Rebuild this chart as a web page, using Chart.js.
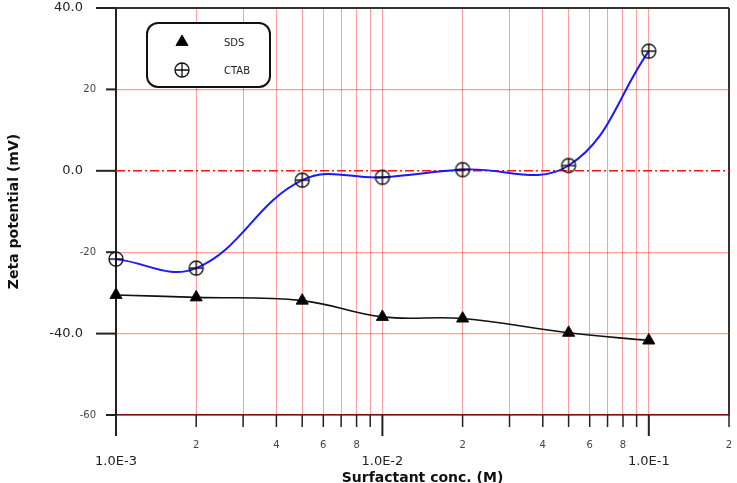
<!DOCTYPE html>
<html>
<head>
<meta charset="utf-8">
<script src="https://cdn.jsdelivr.net/npm/chart.js@4.4.1/dist/chart.umd.min.js"></script>
<style>
  html, body { margin: 0; padding: 0; background: #fff; }
  #wrap { width: 737px; height: 483px; }
</style>
</head>
<body>
<div id="wrap"><canvas id="chart"></canvas></div>
<script>
// surfactant concentration (M) and zeta potential (mV)
const concs = [0.001, 0.002, 0.005, 0.01, 0.02, 0.05, 0.1];
const sdsZeta = [-30.5, -31.1, -31.9, -35.9, -36.3, -39.8, -41.7];
const ctabZeta = [-21.7, -23.9, -2.3, -1.6, 0.3, 1.3, 29.4];

const xTicks = [0.001, 0.002, 0.003, 0.004, 0.005, 0.006, 0.007, 0.008, 0.009,
                0.01, 0.02, 0.03, 0.04, 0.05, 0.06, 0.07, 0.08, 0.09, 0.1, 0.2];
const yTicks = [-60, -40, -20, 0, 20, 40];

const FONT = "'DejaVu Sans', Verdana, sans-serif";
const GRID_RED = 'rgba(255, 40, 40, 0.45)';

function decade(v) {
    const e = Math.floor(Math.log10(v) + 1e-9);
    return { e: e, m: Math.round(v / Math.pow(10, e)) };
}

// circle with a cross, used for CTAB
function crossCircle(r) {
    const c = document.createElement('canvas');
    const s = r * 2 + 4;
    c.width = c.height = s;
    const g = c.getContext('2d');
    const m = s / 2;
    g.strokeStyle = '#111';
    g.lineWidth = 1.3;
    g.beginPath();
    g.arc(m, m, r, 0, Math.PI * 2);
    g.moveTo(m - r, m); g.lineTo(m + r, m);
    g.moveTo(m, m - r); g.lineTo(m, m + r);
    g.stroke();
    return c;
}
const ctabMark = crossCircle(7);

const axisExtras = {
    id: 'axisExtras',
    beforeDatasetsDraw(chart) {
        const ctx = chart.ctx;
        const area = chart.chartArea;
        const y0 = chart.scales.y.getPixelForValue(0);
        ctx.save();
        ctx.strokeStyle = '#ff1010';
        ctx.lineWidth = 1.5;
        ctx.setLineDash([9, 3, 2, 3]);
        ctx.beginPath();
        ctx.moveTo(area.left, y0);
        ctx.lineTo(area.right, y0);
        ctx.stroke();
        ctx.restore();
    },
    afterDraw(chart) {
        const ctx = chart.ctx;
        const area = chart.chartArea;
        const xs = chart.scales.x, ys = chart.scales.y;
        ctx.save();
        ctx.strokeStyle = '#222';
        // y tick marks, outward
        yTicks.forEach(v => {
            const p = ys.getPixelForValue(v);
            const len = v % 40 === 0 ? 20 : 10;
            ctx.lineWidth = 2;
            ctx.beginPath();
            ctx.moveTo(area.left - len, p);
            ctx.lineTo(area.left, p);
            ctx.stroke();
        });
        // x tick marks, outward
        xTicks.forEach(v => {
            const p = xs.getPixelForValue(v);
            const len = decade(v).m === 1 ? 21 : 12;
            ctx.lineWidth = decade(v).m === 1 ? 2 : 1.5;
            ctx.beginPath();
            ctx.moveTo(p, area.bottom);
            ctx.lineTo(p, area.bottom + len);
            ctx.stroke();
        });

        // legend box
        const bx = 147, by = 23, bw = 123, bh = 64, r = 11;
        ctx.lineWidth = 2;
        ctx.strokeStyle = '#111';
        ctx.fillStyle = '#fff';
        ctx.beginPath();
        ctx.roundRect(bx, by, bw, bh, r);
        ctx.fill();
        ctx.stroke();
        ctx.fillStyle = '#000';
        ctx.lineWidth = 1;
        Chart.helpers.drawPoint(ctx, { pointStyle: 'triangle', radius: 7, borderWidth: 1 }, 182, 42);
        ctx.drawImage(ctabMark, 182 - ctabMark.width / 2, 70 - ctabMark.height / 2);
        ctx.font = '10px ' + FONT;
        ctx.fillStyle = '#222';
        ctx.textBaseline = 'middle';
        ctx.fillText('SDS', 224, 43);
        ctx.fillText('CTAB', 224, 71);
        ctx.restore();
    }
};

new Chart(document.getElementById('chart'), {
    type: 'line',
    data: {
        datasets: [
            {
                label: 'SDS',
                data: concs.map((c, i) => ({ x: c, y: sdsZeta[i] })),
                borderColor: '#111',
                borderWidth: 1.6,
                backgroundColor: '#000',
                pointStyle: 'triangle',
                pointRadius: 7,
                pointBorderWidth: 1,
                tension: 0.4,
                clip: false
            },
            {
                label: 'CTAB',
                data: concs.map((c, i) => ({ x: c, y: ctabZeta[i] })),
                borderColor: '#1a1aff',
                borderWidth: 2,
                pointStyle: ctabMark,
                tension: 0.4,
                clip: false
            }
        ]
    },
    options: {
        responsive: true,
        maintainAspectRatio: false,
        animation: false,
        layout: { padding: { top: 5, right: 8, left: 0, bottom: 0 } },
        plugins: {
            legend: { display: false },
            tooltip: { enabled: false }
        },
        scales: {
            x: {
                type: 'logarithmic',
                min: 0.001,
                max: 0.2,
                afterBuildTicks: scale => { scale.ticks = xTicks.map(v => ({ value: v })); },
                afterFit: scale => {
                    scale.height = 68;
                    scale.paddingLeft = 0;
                    scale.paddingRight = 0;
                },
                grid: {
                    drawTicks: false,
                    color: ctx => ctx.tick && ctx.tick.value === 0.2 ? '#333' : GRID_RED,
                    lineWidth: ctx => ctx.tick && ctx.tick.value === 0.2 ? 2 : 1
                },
                border: { color: '#7a1010', width: 1.5 },
                ticks: {
                    autoSkip: false,
                    maxRotation: 0,
                    padding: 24,
                    color: ctx => ctx.tick && decade(ctx.tick.value).m === 1 ? '#222' : '#444',
                    font: ctx => ({
                        family: FONT,
                        size: ctx.tick && decade(ctx.tick.value).m === 1 ? 13 : 10,
                        lineHeight: ctx.tick && decade(ctx.tick.value).m === 1 ? 1.15 : 1.2
                    }),
                    callback: value => {
                        const d = decade(value);
                        if (d.m === 1) return ['', '1.0E' + d.e];
                        return [2, 4, 6, 8].includes(d.m) ? String(d.m) : '';
                    }
                },
                title: {
                    display: true,
                    text: 'Surfactant conc. (M)',
                    color: '#111',
                    font: { family: FONT, size: 14, weight: 'bold' },
                    padding: { top: 0, bottom: -4 }
                }
            },
            y: {
                min: -60,
                max: 40,
                afterBuildTicks: scale => { scale.ticks = yTicks.map(v => ({ value: v })); },
                afterFit: scale => {
                    scale.width = 116;
                    scale.paddingTop = 0;
                    scale.paddingBottom = 0;
                },
                grid: {
                    drawTicks: false,
                    color: ctx => {
                        const v = ctx.tick && ctx.tick.value;
                        if (v === 40) return '#333';
                        if (v === -60) return '#7a1010';
                        if (v === 0) return 'rgba(0,0,0,0)';
                        return GRID_RED;
                    },
                    lineWidth: ctx => ctx.tick && ctx.tick.value === 40 ? 2 : 1.2
                },
                border: { color: '#222', width: 2 },
                ticks: {
                    padding: 20,
                    color: ctx => ctx.tick && ctx.tick.value % 40 === 0 ? '#222' : '#444',
                    font: ctx => ({ family: FONT, size: ctx.tick && ctx.tick.value % 40 === 0 ? 13 : 10 }),
                    callback: v => v % 40 === 0 ? v.toFixed(1) + '\u2002\u2002' : String(v)
                },
                title: {
                    display: true,
                    text: 'Zeta potential (mV)',
                    color: '#111',
                    font: { family: FONT, size: 14, weight: 'bold' },
                    padding: { top: 6, bottom: 0 }
                }
            }
        }
    },
    plugins: [axisExtras]
});
</script>
</body>
</html>
